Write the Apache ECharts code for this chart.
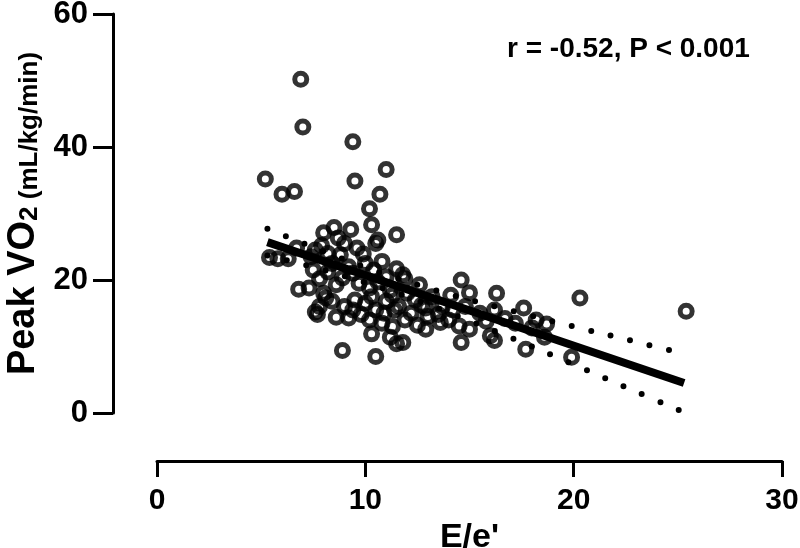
<!DOCTYPE html>
<html>
<head>
<meta charset="utf-8">
<title>Peak VO2 vs E/e'</title>
<script src="https://cdn.jsdelivr.net/npm/echarts@6/dist/echarts.min.js"></script>
<style>
  html, body { margin: 0; padding: 0; background: #fff; }
  #main { width: 800px; height: 548px; }
</style>
</head>
<body>
<div id="main"></div>
<script>
// axis ticks
const xTicks = [0, 10, 20, 30];
const yTicks = [0, 20, 40, 60];

// E/e' vs peak VO2
const eeRatio = [
  6.9, 7.0, 9.4, 11.0, 5.2, 9.5, 6.0, 6.6, 10.7, 10.2, 10.3, 11.5, 8.0, 8.5, 9.3, 10.6,
  10.5, 9.9, 5.4, 5.8, 6.8, 7.3, 8.6, 8.1, 7.7, 8.6, 9.2, 9.8, 10.3, 11.2, 11.5, 8.9, 10.5,
  14.6, 14.1, 15.0, 16.3, 20.3, 17.6, 18.2, 18.7, 18.6, 17.7, 19.9, 14.6, 16.0, 16.2, 12.9,
  13.6, 14.5, 15.0, 11.8, 11.8, 12.6, 25.4,
  7.6, 7.9, 8.2, 8.4, 8.8, 9.0, 9.2, 8.7, 9.6, 9.4, 10.0, 10.4, 10.8, 11.0, 11.5, 11.9,
  7.5, 7.8, 8.2, 8.9, 9.7, 10.2, 10.6, 11.2, 12.0, 12.4, 12.7, 13.2, 13.7, 14.2, 14.8,
  15.5, 16.2, 16.7, 15.8, 17.2, 18.0, 13.0, 12.2, 11.6, 11.0, 10.5, 10.0, 9.5, 9.0, 8.4,
  7.8, 7.6, 10.2, 10.8, 11.3, 11.9, 12.5, 9.4, 10.9, 11.4, 13.5, 14.0, 8.0, 12.9, 11.3,
  10.3, 7.4, 6.3, 6.7
];
const peakVO2 = [
  50.2, 43.0, 40.8, 36.6, 35.2, 34.9, 32.9, 33.3, 32.9, 30.7, 28.3, 26.8, 27.1, 27.9, 27.6, 26.0,
  25.5, 23.9, 23.4, 23.2, 18.6, 18.8, 19.3, 17.3, 14.8, 14.4, 14.3, 14.8, 11.9, 11.4, 10.4, 9.4, 8.5,
  20.0, 17.7, 18.1, 18.0, 17.3, 15.8, 14.0, 13.4, 11.4, 9.6, 8.4, 10.6, 11.6, 10.9, 12.6,
  13.6, 13.1, 12.6, 10.6, 20.8, 19.3, 15.3,
  24.5, 25.2, 24.0, 22.5, 23.8, 25.5, 22.0, 26.3, 24.8, 21.0, 22.5, 21.5, 22.8, 20.5, 21.7, 20.2,
  21.5, 20.2, 21.2, 20.3, 19.5, 18.8, 19.7, 18.5, 18.0, 17.0, 16.2, 17.5, 16.0, 15.5, 16.0,
  15.0, 15.5, 14.2, 13.8, 13.5, 12.8, 14.5, 15.0, 16.0, 16.8, 15.5, 16.5, 17.0, 16.0, 16.8,
  16.0, 15.2, 14.0, 13.5, 13.0, 14.0, 13.2, 15.5, 15.0, 15.5, 14.8, 14.0, 18.0, 15.8, 17.7,
  17.5, 23.5, 23.2, 24.8
];

// fitted line and 95% band
const fitLine = [[5.3, 25.7], [25.3, 4.5]];
const upperBand = [[5.3, 27.7], [8, 24.3], [11, 20.8], [14, 17.9], [17, 15.4], [20, 13.0], [23, 10.7], [25.3, 8.9]];
const lowerBand = [[5.3, 23.7], [8, 21.5], [11, 18.6], [14, 15.1], [17, 11.3], [20, 7.3], [23, 3.2], [25.3, 0.1]];

const statText = 'r = -0.52, P < 0.001';

const font = "'Liberation Sans', Arial, sans-serif";

let chart = echarts.init(document.getElementById('main'), null, { renderer: 'canvas' });

let option = {
  animation: false,
  backgroundColor: '#fff',
  title: {
    text: statText,
    left: 502,
    top: 30,
    textStyle: { fontFamily: font, fontWeight: 'bold', fontSize: 28, color: '#000' }
  },
  grid: { left: 157, right: 18, top: 14, bottom: 135, outerBoundsMode: 'none' },
  xAxis: {
    type: 'value',
    min: xTicks[0],
    max: xTicks[xTicks.length - 1],
    interval: xTicks[1] - xTicks[0],
    offset: 48,
    name: "E/e'",
    nameLocation: 'middle',
    nameGap: 52,
    nameTextStyle: { fontFamily: font, fontWeight: 'bold', fontSize: 34, color: '#000' },
    axisLine: { onZero: false, lineStyle: { color: '#000', width: 3 } },
    axisTick: { length: 16, lineStyle: { color: '#000', width: 3 } },
    axisLabel: { margin: 25, fontFamily: font, fontWeight: 'bold', fontSize: 30, color: '#000' },
    splitLine: { show: false }
  },
  yAxis: {
    type: 'value',
    min: yTicks[0],
    max: yTicks[yTicks.length - 1],
    interval: yTicks[1] - yTicks[0],
    offset: 44,
    name: '{big|Peak VO}{sub|2}{small| (mL/kg/min)}',
    nameLocation: 'middle',
    nameRotate: 90,
    nameGap: 70,
    nameTextStyle: {
      fontFamily: font,
      fontWeight: 'bold',
      color: '#000',
      rich: {
        big: { fontFamily: font, fontWeight: 'bold', fontSize: 38, lineHeight: 38, color: '#000' },
        sub: { fontFamily: font, fontWeight: 'bold', fontSize: 26, lineHeight: 14, verticalAlign: 'bottom', color: '#000' },
        small: { fontFamily: font, fontWeight: 'bold', fontSize: 26, lineHeight: 30, verticalAlign: 'bottom', color: '#000' }
      }
    },
    axisLine: { onZero: false, lineStyle: { color: '#000', width: 3 } },
    axisTick: { length: 20, lineStyle: { color: '#000', width: 3 } },
    axisLabel: { margin: 25, fontFamily: font, fontWeight: 'bold', fontSize: 31, color: '#000' },
    splitLine: { show: false }
  },
  series: [
    {
      name: 'patients',
      type: 'scatter',
      symbol: 'circle',
      symbolSize: 12,
      itemStyle: { color: 'rgba(0,0,0,0)', borderColor: '#000', borderWidth: 5 },
      data: eeRatio.map((x, i) => [x, peakVO2[i]]),
      z: 2
    },
    {
      name: 'upper 95% CI',
      type: 'line',
      smooth: 0.4,
      symbol: 'none',
      lineStyle: { color: '#000', width: 6, type: [0, 20], cap: 'round' },
      data: upperBand,
      z: 3
    },
    {
      name: 'lower 95% CI',
      type: 'line',
      smooth: 0.4,
      symbol: 'none',
      lineStyle: { color: '#000', width: 6, type: [0, 20], cap: 'round' },
      data: lowerBand,
      z: 3
    },
    {
      name: 'fit',
      type: 'line',
      symbol: 'none',
      lineStyle: { color: '#000', width: 8, cap: 'butt' },
      data: fitLine,
      z: 4
    }
  ]
};

option && chart.setOption(option);
</script>
</body>
</html>
